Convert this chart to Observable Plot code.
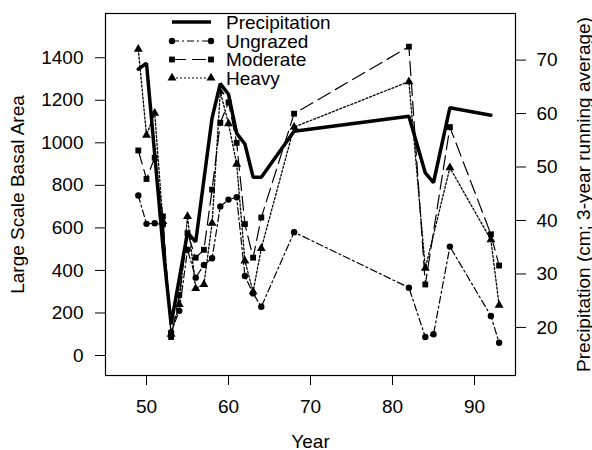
<!DOCTYPE html>
<html><head><meta charset="utf-8">
<script src="https://cdn.jsdelivr.net/npm/d3@7"></script>
<script src="https://cdn.jsdelivr.net/npm/@observablehq/plot@0.6"></script>
<style>
body{margin:0;background:#fff;font-family:"Liberation Sans",Arial,sans-serif;}
#wrap{position:relative;width:592px;height:450px;}
#legend{position:absolute;left:0;top:0;pointer-events:none;}
</style></head><body><div id="wrap"></div>
<script>
// ---- data ----
const precipYears = [49,50,51,52,53,55,56,58,59,60,61,62,63,64,68,82,84,85,87,92];
const precipVals  = [68.3,69.4,52.4,35.2,20.6,37.7,36.0,59.2,65.6,63.6,56.3,54.3,48.1,48.1,56.7,59.5,48.9,47.1,61.1,59.7];

const ungrazedYears = [49,50,51,52,53,54,55,56,57,58,59,60,61,62,63,64,68,82,84,85,87,92,93];
const ungrazedVals  = [752,619,622,615,110,210,497,366,426,457,701,733,744,374,292,229,580,319,87,100,512,186,60];

const moderateYears = [49,50,51,52,53,54,55,56,57,58,59,60,61,62,63,64,68,82,84,87,92,93];
const moderateVals  = [964,830,930,654,87,285,575,460,497,780,1094,1190,1000,618,460,649,1137,1452,334,1074,570,423];

const heavyYears = [49,50,51,52,53,54,55,56,57,58,59,60,61,62,63,64,68,82,84,87,92,93];
const heavyVals  = [1440,1036,1139,630,100,240,654,315,334,622,1240,1090,900,445,300,504,1074,1288,410,883,544,237];

const xTicks = [50,60,70,80,90];
const leftTicks = [0,200,400,600,800,1000,1200,1400];
const rightTicks = [20,30,40,50,60,70];
const legendLabels = ["Precipitation","Ungrazed","Moderate","Heavy"];

// right axis (precipitation) mapped onto the left scale
const P0 = 132, PSLOPE = 25.14;
const toLeft = p => P0 + (p - 20) * PSLOPE;
const fromLeft = v => 20 + (v - P0) / PSLOPE;

const zip = (xs, ys) => xs.map((x, i) => ({x, y: ys[i]}));
const precip = precipYears.map((x, i) => ({x, y: toLeft(precipVals[i])}));
const ungrazed = zip(ungrazedYears, ungrazedVals);
const moderate = zip(moderateYears, moderateVals);
const heavy = zip(heavyYears, heavyVals);

const FONT = "Liberation Sans, Arial, sans-serif";
const styles = {
  ungrazed: {dash: "7,3,2,3", symbol: "circle", r: 3.2},
  moderate: {dash: "14,6", symbol: "square", r: 3.3},
  heavy: {dash: "2,2", symbol: "triangle", r: 3.3}
};

const chart = Plot.plot({
  width: 592, height: 450,
  marginLeft: 105, marginRight: 77, marginTop: 13, marginBottom: 75,
  style: {fontFamily: FONT, fontSize: "19px", color: "black", background: "white"},
  x: {domain: [45, 95]},
  y: {domain: [-94, 1608]},
  marks: [
    Plot.frame({stroke: "black", strokeWidth: 1.2}),
    Plot.axisX({ticks: xTicks, tickSize: 10, tickPadding: 14, fontSize: 19, tickFormat: d => String(d),
      label: "Year", labelAnchor: "center", labelOffset: 72, labelArrow: "none"}),
    Plot.axisY({ticks: leftTicks, tickSize: 10, tickPadding: 12, fontSize: 19, tickFormat: d => String(d),
      label: "Large Scale Basal Area", labelAnchor: "center", labelOffset: 95, labelArrow: "none"}),
    Plot.axisY({anchor: "right", ticks: rightTicks.map(toLeft), tickFormat: v => String(Math.round(fromLeft(v))),
      tickSize: 10, tickPadding: 11, fontSize: 19,
      label: "Precipitation (cm; 3-year running average)", labelAnchor: "center", labelOffset: 74, labelArrow: "none"}),
    Plot.line(precip, {x: "x", y: "y", stroke: "black", strokeWidth: 3.5, strokeLinejoin: "miter"}),
    Plot.line(ungrazed, {x: "x", y: "y", stroke: "black", strokeWidth: 1.2, strokeDasharray: styles.ungrazed.dash}),
    Plot.dot(ungrazed, {x: "x", y: "y", fill: "black", stroke: "none", symbol: "circle", r: styles.ungrazed.r}),
    Plot.line(moderate, {x: "x", y: "y", stroke: "black", strokeWidth: 1.2, strokeDasharray: styles.moderate.dash}),
    Plot.dot(moderate, {x: "x", y: "y", fill: "black", stroke: "none", symbol: "square", r: styles.moderate.r}),
    Plot.line(heavy, {x: "x", y: "y", stroke: "black", strokeWidth: 1.3, strokeDasharray: styles.heavy.dash}),
    Plot.dot(heavy, {x: "x", y: "y", fill: "black", stroke: "none", symbol: "triangle", r: styles.heavy.r})
  ]
});
document.getElementById("wrap").appendChild(chart);

// legend overlay
const leg = d3.select("#wrap").append("svg").attr("id", "legend")
  .attr("width", 592).attr("height", 100);
const rowY = [22, 41, 59.5, 78];
const keys = [null, "ungrazed", "moderate", "heavy"];
const x1 = 172, x2 = 211;
legendLabels.forEach((lab, i) => {
  const g = leg.append("g");
  const k = keys[i];
  if (!k) {
    g.append("line").attr("x1", x1).attr("x2", x2).attr("y1", rowY[i]).attr("y2", rowY[i])
      .attr("stroke", "black").attr("stroke-width", 3.5);
  } else {
    const s = styles[k];
    g.append("line").attr("x1", x1).attr("x2", x2).attr("y1", rowY[i]).attr("y2", rowY[i])
      .attr("stroke", "black").attr("stroke-width", 1.2).attr("stroke-dasharray", s.dash);
    const sym = {circle: d3.symbolCircle, square: d3.symbolSquare, triangle: d3.symbolTriangle}[s.symbol];
    const path = d3.symbol(sym, Math.PI * s.r * s.r)();
    [x1, x2].forEach(xx => g.append("path").attr("d", path)
      .attr("transform", `translate(${xx},${rowY[i]})`).attr("fill", "black"));
  }
  g.append("text").attr("x", 226).attr("y", rowY[i]).attr("dy", "0.35em")
    .attr("font-family", FONT).attr("font-size", 19).attr("fill", "black").text(lab);
});
</script>
</body></html>
